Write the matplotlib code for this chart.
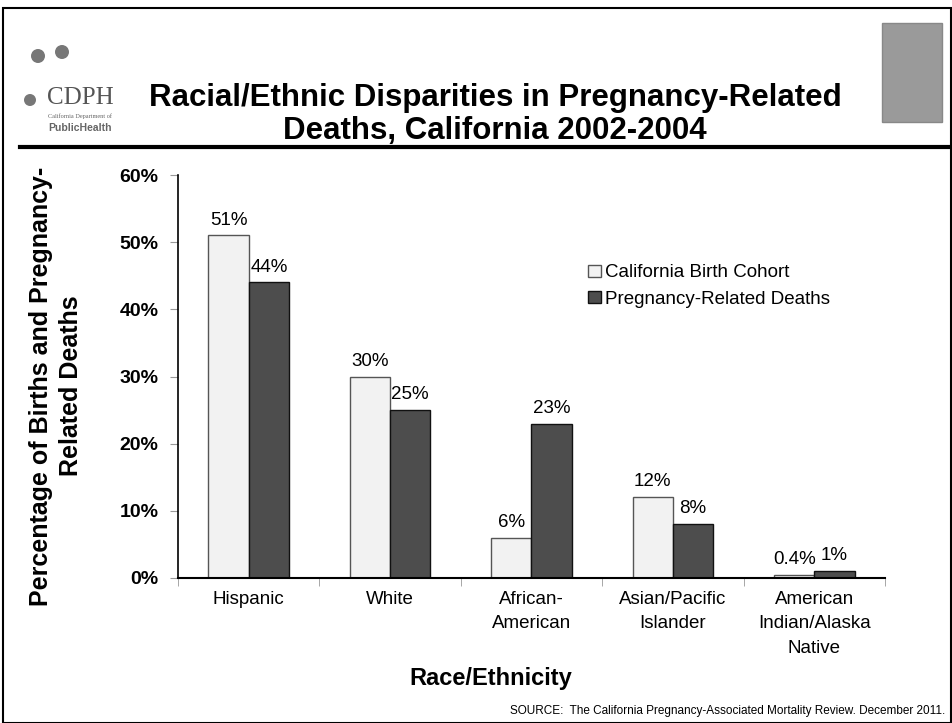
import matplotlib
matplotlib.use("Agg")
import matplotlib.pyplot as plt
import numpy as np
from matplotlib.patches import Rectangle, Ellipse
from matplotlib.lines import Line2D

plt.rcParams['font.family'] = ['Liberation Sans', 'DejaVu Sans']

categories = ["Hispanic", "White", "African-\nAmerican", "Asian/Pacific\nIslander", "American\nIndian/Alaska\nNative"]
birth_cohort = [51, 30, 6, 12, 0.4]
deaths = [44, 25, 23, 8, 1]
birth_labels = ["51%", "30%", "6%", "12%", "0.4%"]
death_labels = ["44%", "25%", "23%", "8%", "1%"]
series_names = ["California Birth Cohort", "Pregnancy-Related Deaths"]
yticks = [0, 10, 20, 30, 40, 50, 60]
ytick_labels = ["0%", "10%", "20%", "30%", "40%", "50%", "60%"]

W, H = 953, 723
fig = plt.figure(figsize=(W / 100, H / 100), dpi=100)

# page border and header rule
fig.add_artist(Rectangle((3 / W, 0), (W - 5) / W, 1 - 8 / H, transform=fig.transFigure,
                         fill=False, edgecolor='black', linewidth=1.5))
fig.add_artist(Line2D([20 / W, 950 / W], [1 - 147 / H, 1 - 147 / H], transform=fig.transFigure,
                      color='black', linewidth=3))

# title
fig.text(495 / W, 1 - 98 / H, "Racial/Ethnic Disparities in Pregnancy-Related",
         ha='center', va='center', fontsize=22.5, fontweight='bold')
fig.text(495 / W, 1 - 131 / H, "Deaths, California 2002-2004",
         ha='center', va='center', fontsize=22.5, fontweight='bold')

# logo placeholders
fig.text(80 / W, 1 - 98 / H, "CDPH", ha='center', va='center', fontsize=18,
         family='Liberation Serif', color='#555555')
fig.text(80 / W, 1 - 116 / H, "California Department of", ha='center', va='center',
         fontsize=4.5, family='Liberation Serif', color='#666666')
fig.text(80 / W, 1 - 128 / H, "PublicHealth", ha='center', va='center', fontsize=7.5,
         fontweight='bold', color='#666666')
for cx, cy, r in [(38, 56, 7), (62, 52, 7), (30, 100, 6)]:
    fig.add_artist(Ellipse((cx / W, 1 - cy / H), 2 * r / W, 2 * r / H,
                           transform=fig.transFigure, facecolor='#777777', edgecolor='none'))
fig.add_artist(Rectangle((882 / W, 1 - 122 / H), 60 / W, 99 / H, transform=fig.transFigure,
                         facecolor='#9a9a9a', edgecolor='#888888', linewidth=1))

ax = fig.add_axes([178 / W, 1 - 578 / H, 707 / W, 403 / H])
x = np.arange(len(categories))
w = 0.285
ax.bar(x - w / 2, birth_cohort, w, color='#f2f2f2', edgecolor='#555555', linewidth=1,
       label=series_names[0])
ax.bar(x + w / 2, deaths, w, color='#4d4d4d', edgecolor='#111111', linewidth=1,
       label=series_names[1])
for xi, v, t in zip(x, birth_cohort, birth_labels):
    ax.annotate(t, (xi - w / 2, v), xytext=(0, 5), textcoords='offset points',
                ha='center', va='bottom', fontsize=13.5)
for xi, v, t in zip(x, deaths, death_labels):
    ax.annotate(t, (xi + w / 2, v), xytext=(0, 5), textcoords='offset points',
                ha='center', va='bottom', fontsize=13.5)

ax.set_xlim(-0.5, len(categories) - 0.5)
ax.set_ylim(0, 60)
ax.set_yticks(yticks)
ax.set_yticklabels(ytick_labels, fontsize=14, fontweight='bold')
ax.tick_params(axis='y', length=6, color='#999999', pad=8)
ax.set_xticks(x)
ax.set_xticklabels(categories, fontsize=13.5, linespacing=1.6, va='top')
ax.tick_params(axis='x', which='major', length=0, pad=9)
ax.set_xticks(np.arange(-0.5, len(categories), 1.0), minor=True)
ax.tick_params(axis='x', which='minor', length=6, color='#999999')
for s in ['top', 'right']:
    ax.spines[s].set_visible(False)
ax.spines['left'].set_linewidth(1.2)
ax.spines['bottom'].set_linewidth(1.5)

fig.text(491 / W, 1 - 678 / H, "Race/Ethnicity", ha='center', va='center',
         fontsize=17, fontweight='bold')
fig.text(56 / W, 1 - 386 / H, "Percentage of Births and Pregnancy-\nRelated Deaths",
         rotation=90, ha='center', va='center', fontsize=18, fontweight='bold',
         linespacing=1.3)

ax.legend(loc='upper left', bbox_to_anchor=(401 / 707, 1 - 80 / 403), frameon=False,
          fontsize=13.5, handlelength=0.65, handleheight=0.65, handletextpad=0.25,
          labelspacing=0.5, borderpad=0)

fig.text(945 / W, 1 - 711 / H,
         "SOURCE:  The California Pregnancy-Associated Mortality Review. December 2011.",
         ha='right', va='center', fontsize=8.5)

fig.savefig("out.png", dpi=100)
